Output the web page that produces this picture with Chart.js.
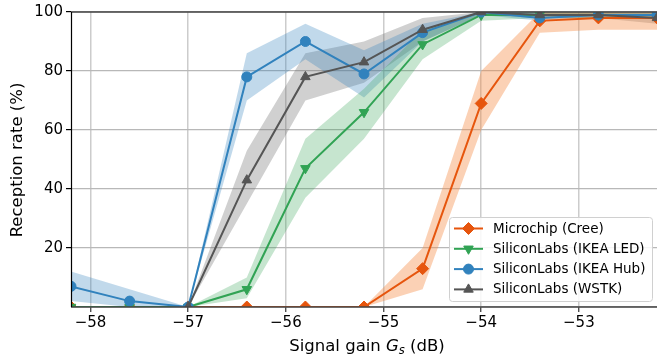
<!DOCTYPE html>
<html>
<head>
<meta charset="utf-8">
<script src="https://cdn.jsdelivr.net/npm/chart.js@4/dist/chart.umd.min.js"></script>
<style>
  html, body { margin: 0; padding: 0; background: #fff; }
  #chart { display: block; }
</style>
</head>
<body>
<canvas id="chart" width="657" height="356"></canvas>
<script>
const gains = [-58.2, -57.6, -57.0, -56.4, -55.8, -55.2, -54.6, -54.0, -53.4, -52.8, -52.2];
const xTicks = [-58, -57, -56, -55, -54, -53];
const yTicks = [0, 20, 40, 60, 80, 100];

const seriesNames = ["Microchip (Cree)", "SiliconLabs (IKEA LED)", "SiliconLabs (IKEA Hub)", "SiliconLabs (WSTK)"];

const creeMean = [0, 0, 0, 0, 0, 0, 13, 69, 97, 98, 98];
const creeLow = [0, 0, 0, 0, 0, 0, 6, 60, 93, 94, 94];
const creeHigh = [0, 0, 0, 0, 0, 0, 20, 80, 100, 100, 100];

const ledMean = [0, 0, 0, 6, 47, 66, 89, 99, 99, 99, 99];
const ledLow = [0, 0, 0, 3, 37, 57, 84, 97, 98, 98, 98];
const ledHigh = [0, 0, 0, 10, 57, 74, 94, 100, 100, 100, 100];

const hubMean = [7, 2, 0, 78, 90, 79, 93, 100, 98, 99, 99];
const hubLow = [2, 0, 0, 70, 84, 71, 90, 99, 97, 98, 98];
const hubHigh = [12, 6, 0, 86, 96, 87, 96, 100, 100, 100, 100];

const wstkMean = [null, null, 0, 43, 78, 83, 94, 100, 99, 99, 98];
const wstkLow = [null, null, 0, 35, 70, 76, 90, 99, 98, 98, 96];
const wstkHigh = [null, null, 0, 53, 86, 90, 98, 100, 100, 100, 100];

const lineColors = ["#e6550d", "#31a354", "#3182bd", "#555555"];
const bandColors = ["rgba(246,140,70,0.40)", "rgba(49,163,84,0.28)", "rgba(49,130,189,0.30)", "rgba(110,110,110,0.32)"];
const markers = [
  { style: "rectRot", r: 6, rot: 0 },
  { style: "triangle", r: 5.5, rot: 180 },
  { style: "circle", r: 5, rot: 0 },
  { style: "triangle", r: 5.5, rot: 0 },
];

const means = [creeMean, ledMean, hubMean, wstkMean];
const lows = [creeLow, ledLow, hubLow, wstkLow];
const highs = [creeHigh, ledHigh, hubHigh, wstkHigh];

const pts = (arr) => gains.map((g, k) => ({ x: g, y: arr[k] }));
const minus = (v) => (v < 0 ? "\u2212" + Math.abs(v) : String(v));

const datasets = [];
// bands first (behind), each high fills down to its low
for (let i = 0; i < 4; i++) {
  datasets.push({
    data: pts(lows[i]), borderWidth: 0, pointRadius: 0, fill: false, order: 20,
  });
  datasets.push({
    data: pts(highs[i]), borderWidth: 0, pointRadius: 0, fill: "-1",
    backgroundColor: bandColors[i], order: 20,
  });
}
for (let i = 0; i < 4; i++) {
  datasets.push({
    label: seriesNames[i],
    data: pts(means[i]),
    borderColor: lineColors[i],
    backgroundColor: lineColors[i],
    borderWidth: 2,
    pointStyle: markers[i].style,
    pointRotation: markers[i].rot,
    pointRadius: markers[i].r,
    pointBorderWidth: 1,
    fill: false,
    order: 3 - i,
  });
}

function drawMarker(ctx, m, x, y, color) {
  ctx.save();
  ctx.fillStyle = color;
  ctx.strokeStyle = color;
  ctx.lineWidth = 1;
  ctx.beginPath();
  if (m.style === "circle") {
    ctx.arc(x, y, m.r, 0, Math.PI * 2);
  } else if (m.style === "rectRot") {
    ctx.moveTo(x, y - m.r); ctx.lineTo(x + m.r, y);
    ctx.lineTo(x, y + m.r); ctx.lineTo(x - m.r, y);
    ctx.closePath();
  } else {
    let a = m.rot * Math.PI / 180;
    for (let k = 0; k < 3; k++) {
      const px = x + Math.sin(a) * m.r, py = y - Math.cos(a) * m.r;
      k ? ctx.lineTo(px, py) : ctx.moveTo(px, py);
      a += Math.PI * 2 / 3;
    }
    ctx.closePath();
  }
  ctx.fill();
  ctx.stroke();
  ctx.restore();
}

const decor = {
  id: "decor",
  afterDatasetsDraw(chart) {
    const { ctx, chartArea: a } = chart;
    ctx.save();
    ctx.lineWidth = 1.6;
    ctx.strokeStyle = "#444";
    ctx.beginPath();
    ctx.moveTo(a.left, a.top); ctx.lineTo(a.right, a.top);
    ctx.moveTo(a.left, a.bottom); ctx.lineTo(a.right, a.bottom);
    ctx.stroke();
    ctx.lineWidth = 1.2;
    ctx.strokeStyle = "#000";
    ctx.beginPath();
    ctx.moveTo(a.left + 0.5, a.top); ctx.lineTo(a.left + 0.5, a.bottom);
    ctx.stroke();
    ctx.restore();
  },
  afterDraw(chart) {
    const { ctx, chartArea: a } = chart;
    ctx.save();
    // legend
    const lx = 449.5, ly = 217.5, lw = 203, lh = 84;
    ctx.fillStyle = "rgba(255,255,255,0.85)";
    ctx.strokeStyle = "#d0d0d0";
    ctx.lineWidth = 1;
    ctx.beginPath();
    ctx.roundRect(lx, ly, lw, lh, 3);
    ctx.fill();
    ctx.stroke();
    ctx.font = "13.5px 'DejaVu Sans'";
    ctx.textBaseline = "middle";
    ctx.textAlign = "left";
    for (let i = 0; i < 4; i++) {
      const y = 228.5 + i * 20.3;
      ctx.strokeStyle = lineColors[i];
      ctx.lineWidth = 2;
      ctx.beginPath();
      ctx.moveTo(454, y); ctx.lineTo(483, y);
      ctx.stroke();
      drawMarker(ctx, markers[i], 468.5, y, lineColors[i]);
      ctx.fillStyle = "#000";
      ctx.fillText(seriesNames[i], 493, y + 0.5);
    }
    // x title with italic G subscript s
    ctx.fillStyle = "#000";
    ctx.textBaseline = "alphabetic";
    const big = "16.5px 'DejaVu Sans'", ital = "italic 16.5px 'DejaVu Sans'", sub = "italic 11.5px 'DejaVu Sans'";
    const parts = [["Signal gain ", big, 0], ["G", ital, 0], ["s", sub, 3], [" (dB)", big, 0]];
    let total = 0;
    parts.forEach((p) => { ctx.font = p[1]; total += ctx.measureText(p[0]).width; });
    let x = 367 - total / 2;
    parts.forEach((p) => {
      ctx.font = p[1];
      ctx.fillText(p[0], x, 351 + p[2]);
      x += ctx.measureText(p[0]).width;
    });
    // y title
    ctx.font = big;
    ctx.textAlign = "center";
    ctx.translate(21.5, 160);
    ctx.rotate(-Math.PI / 2);
    ctx.fillText("Reception rate (%)", 0, 0);
    ctx.restore();
  },
};

new Chart(document.getElementById("chart"), {
  type: "line",
  data: { datasets },
  options: {
    responsive: false,
    animation: false,
    devicePixelRatio: 1,
    layout: { autoPadding: false, padding: { top: 12, right: 0, left: 0, bottom: 0 } },
    plugins: { legend: { display: false }, tooltip: { enabled: false } },
    scales: {
      x: {
        type: "linear",
        min: -58.2,
        max: -52.2,
        afterBuildTicks: (s) => { s.ticks = xTicks.map((v) => ({ value: v })); },
        afterFit: (s) => { s.height = 49; },
        ticks: {
          callback: (v) => minus(v),
          color: "#000",
          font: { family: "'DejaVu Sans'", size: 15 },
          padding: 2,
          maxRotation: 0,
        },
        grid: { color: "#cccccc", lineWidth: 1.5, tickLength: 5, tickColor: "#333", tickWidth: 1.2 },
        border: { display: false },
      },
      y: {
        min: 0,
        max: 100,
        afterBuildTicks: (s) => { s.ticks = yTicks.map((v) => ({ value: v })); },
        afterFit: (s) => { s.width = 71; },
        ticks: {
          callback: (v) => (v === 0 ? "" : String(v)),
          color: "#000",
          font: { family: "'DejaVu Sans'", size: 15 },
          padding: 3,
        },
        grid: {
          color: "#b8b8b8", lineWidth: 1.2, tickLength: 5, tickWidth: 1.2,
          tickColor: (c) => (c.tick && c.tick.value === 0 ? "rgba(0,0,0,0)" : "#000"),
        },
        border: { display: false },
      },
    },
  },
  plugins: [decor],
});
</script>
</body>
</html>
